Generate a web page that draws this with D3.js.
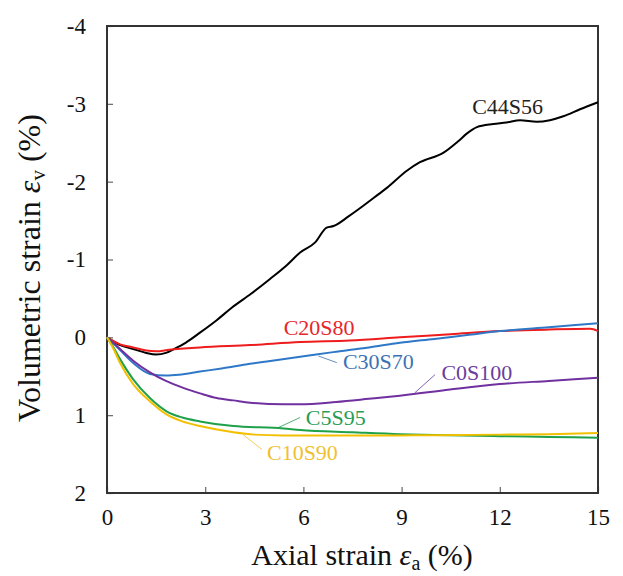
<!DOCTYPE html>
<html><head><meta charset="utf-8">
<script src="https://cdn.jsdelivr.net/npm/d3@7"></script>
<style>body{margin:0;background:#fff}svg{display:block}</style>
</head><body><svg id="c" width="623" height="576"></svg>
<script>
const xTicks = [0, 3, 6, 9, 12, 15];
const yTicks = [-4, -3, -2, -1, 0, 1, 2];
const seriesNames = ["C44S56", "C20S80", "C30S70", "C0S100", "C5S95", "C10S90"];
const seriesColors = ["#000000", "#ee1c1c", "#2f78c8", "#7030a0", "#1fa04a", "#f2c000"];
const labelColors = ["#222222", "#e8262a", "#3d73b4", "#6b3d9c", "#2a9c55", "#f0c030"];

const C44S56 = [[0,0],[0.4,0.1],[0.8,0.15],[1.2,0.2],[1.5,0.22],[1.8,0.2],[2.1,0.14],[2.4,0.07],[2.84,-0.06],[3.35,-0.22],[3.81,-0.38],[4.4,-0.56],[4.98,-0.75],[5.5,-0.93],[5.9,-1.09],[6.36,-1.22],[6.71,-1.41],[6.92,-1.43],[7.4,-1.56],[7.83,-1.69],[8.3,-1.84],[8.55,-1.92],[9.16,-2.14],[9.56,-2.25],[10.27,-2.37],[10.73,-2.52],[11.0,-2.62],[11.3,-2.70],[11.8,-2.74],[12.2,-2.76],[12.62,-2.79],[13.13,-2.77],[13.53,-2.79],[13.94,-2.84],[14.45,-2.93],[15.0,-3.02]];
const C20S80 = [[0,0],[0.4,0.09],[0.8,0.13],[1.2,0.17],[1.5,0.18],[1.9,0.16],[2.84,0.13],[4.37,0.1],[5.9,0.06],[7.42,0.04],[8.95,0.0],[10.5,-0.04],[12,-0.08],[13.5,-0.1],[14.76,-0.11],[15,-0.08]];
const C30S70 = [[0,0],[0.3,0.12],[0.8,0.33],[1.31,0.47],[1.8,0.49],[2.2,0.48],[2.84,0.44],[3.5,0.4],[4.37,0.34],[4.88,0.31],[5.9,0.25],[6.91,0.19],[8.0,0.13],[8.95,0.07],[10,0.02],[11,-0.03],[12,-0.08],[13.5,-0.13],[15,-0.18]];
const C0S100 = [[0,0],[0.4,0.15],[0.8,0.3],[1.31,0.45],[1.8,0.56],[2.33,0.65],[2.84,0.72],[3.35,0.78],[3.86,0.81],[4.37,0.84],[5.39,0.86],[5.9,0.86],[7,0.83],[8.0,0.79],[8.95,0.75],[10.48,0.67],[12,0.6],[13.5,0.56],[15,0.52]];
const C5S95 = [[0,0],[0.2,0.13],[0.4,0.28],[0.8,0.54],[1.31,0.78],[1.82,0.95],[2.3,1.03],[2.84,1.08],[3.86,1.14],[5.39,1.17],[5.9,1.19],[7.5,1.22],[8.95,1.245],[10,1.255],[12,1.27],[13.5,1.28],[15,1.29]];
const C10S90 = [[0,0],[0.2,0.15],[0.4,0.33],[0.8,0.6],[1.31,0.82],[1.82,0.99],[2.3,1.08],[2.84,1.14],[3.86,1.22],[4.5,1.25],[5.39,1.26],[7,1.26],[8.95,1.26],[10,1.257],[12,1.25],[13.5,1.245],[15,1.23]];
const seriesData = [C44S56, C20S80, C30S70, C0S100, C5S95, C10S90];

// annotation anchors (data coords): label centre/baseline, leader start/end
const labelAt = [[12.24,-2.87],[6.48,-0.03],[8.29,0.41],[11.3,0.55],[6.99,1.12],[5.97,1.57]];
const leaders = [null, null, [[6.46,0.24],[7.02,0.325]], [[9.41,0.71],[10.02,0.48]], [[5.23,1.16],[5.9,1.03]], [[4.16,1.25],[4.73,1.44]]];

const svg = d3.select("#c");
const L = 107, T = 26, R = 598, B = 493;
const x = d3.scaleLinear().domain([0, 15]).range([L, R]);
const y = d3.scaleLinear().domain([-4, 2]).range([T, B]);
const serif = "'Liberation Serif', serif";

// ticks (inward)
const gx = svg.append("g").attr("transform", `translate(0,${B})`)
  .call(d3.axisBottom(x).tickValues(xTicks).tickSize(-6).tickPadding(16).tickFormat(d3.format("d")));
const gy = svg.append("g").attr("transform", `translate(${L},0)`)
  .call(d3.axisLeft(y).tickValues(yTicks).tickSize(-6).tickPadding(21).tickFormat(d => d));
[gx, gy].forEach(g => {
  g.attr("font-family", serif).attr("font-size", 23);
  g.select(".domain").remove();
  g.selectAll(".tick line").attr("stroke", "#666").attr("stroke-width", 1.2);
  g.selectAll(".tick text").attr("fill", "#111");
});
gx.selectAll(".tick text").attr("dy", "0.71em");

// frame
svg.append("rect").attr("x", L).attr("y", T).attr("width", R - L).attr("height", B - T)
  .attr("fill", "none").attr("stroke", "#333").attr("stroke-width", 2);

// lines
const line = d3.line().x(d => x(d[0])).y(d => y(d[1])).curve(d3.curveMonotoneX);
seriesData.forEach((s, i) => {
  svg.append("path").datum(s).attr("d", line).attr("fill", "none")
    .attr("stroke", seriesColors[i]).attr("stroke-width", 2).attr("stroke-linejoin", "round");
});

// leaders
leaders.forEach((l, i) => {
  if (!l) return;
  svg.append("line").attr("x1", x(l[0][0])).attr("y1", y(l[0][1]))
    .attr("x2", x(l[1][0])).attr("y2", y(l[1][1]))
    .attr("stroke", labelColors[i]).attr("stroke-width", 1).attr("opacity", 0.8);
});

// labels
seriesNames.forEach((n, i) => {
  svg.append("text").attr("x", x(labelAt[i][0])).attr("y", y(labelAt[i][1]))
    .attr("text-anchor", "middle").attr("font-family", serif).attr("font-size", 22)
    .attr("fill", labelColors[i]).text(n);
});

// axis titles
const xt = svg.append("text").attr("x", 362).attr("y", 565).attr("text-anchor", "middle")
  .attr("font-family", serif).attr("font-size", 30).attr("fill", "#111");
xt.append("tspan").text("Axial strain  ");
xt.append("tspan").attr("font-style", "italic").text("ε");
xt.append("tspan").attr("font-size", 20).attr("dy", 5).text("a");
xt.append("tspan").attr("dy", -5).text(" (%)");

const yt = svg.append("text").attr("transform", `translate(40,268) rotate(-90)`)
  .attr("text-anchor", "middle").attr("font-family", serif).attr("font-size", 32).attr("fill", "#111");
yt.append("tspan").text("Volumetric strain  ");
yt.append("tspan").attr("font-style", "italic").text("ε");
yt.append("tspan").attr("font-size", 21).attr("dy", 5).text("v");
yt.append("tspan").attr("dy", -5).text(" (%)");
</script></body></html>
